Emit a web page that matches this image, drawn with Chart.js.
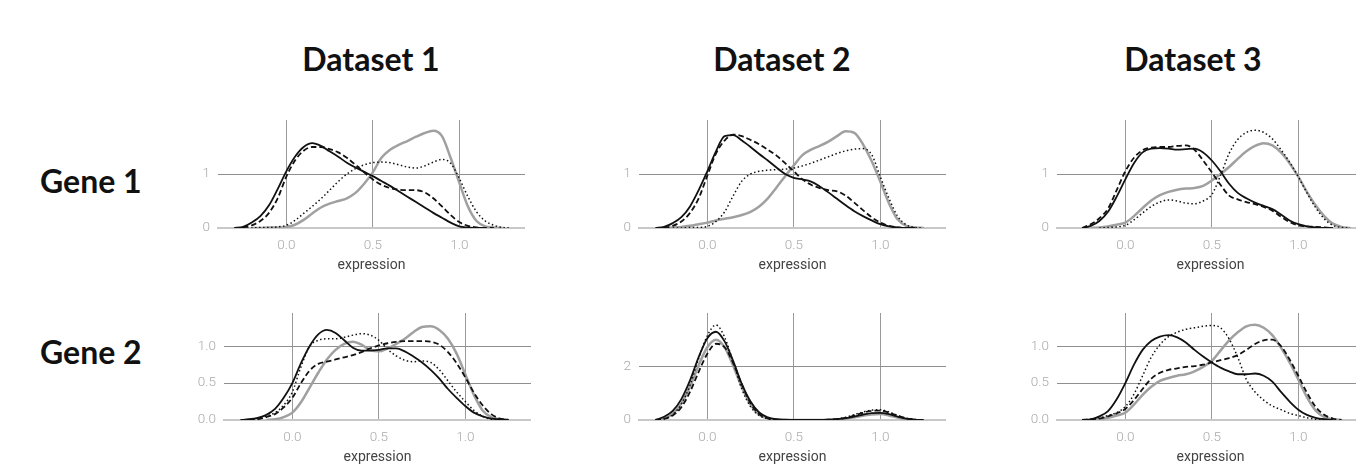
<!DOCTYPE html>
<html>
<head>
<meta charset="utf-8">
<script src="https://cdn.jsdelivr.net/npm/chart.js@4.4.1/dist/chart.umd.min.js"></script>
<style>
  html, body { margin: 0; padding: 0; width: 1356px; height: 468px; overflow: hidden; background: #fff; }
  .head { position: absolute; font-family: Lato, sans-serif; font-weight: 700; font-size: 32px; color: #111;
          line-height: 1; white-space: nowrap; transform: translate(-50%, -50%); }
  .row { position: absolute; font-family: Lato, sans-serif; font-weight: 700; font-size: 32px; color: #111;
         line-height: 1; white-space: nowrap; transform: translateY(-50%); }
  canvas { position: absolute; }
</style>
</head>
<body>
<div class="head" style="left:371px; top:59px">Dataset 1</div>
<div class="head" style="left:782px; top:59px">Dataset 2</div>
<div class="head" style="left:1193px; top:59px">Dataset 3</div>
<div class="row" style="left:40px; top:181px">Gene 1</div>
<div class="row" style="left:40px; top:352px">Gene 2</div>

<script>
// expression grid shared by every curve
const xs = [-0.3,-0.25,-0.2,-0.15,-0.1,-0.05,0,0.05,0.1,0.15,0.2,0.25,0.3,0.35,0.4,0.45,0.5,0.55,0.6,0.65,0.7,0.75,0.8,0.85,0.9,0.95,1,1.05,1.1,1.15,1.2,1.25,1.3];
const xTicks = [0, 0.5, 1];

// Gene 1 / Dataset 1
const g1d1Solid  = [0,0.02,0.1,0.22,0.42,0.72,1.05,1.32,1.5,1.57,1.52,1.42,1.32,1.21,1.12,1.04,0.96,0.87,0.78,0.68,0.58,0.48,0.38,0.28,0.19,0.1,0.03,0.01,0,0,null,null,null];
const g1d1Dashed = [0,0.01,0.05,0.13,0.28,0.55,0.95,1.25,1.43,1.5,1.5,1.46,1.4,1.3,1.17,1.03,0.9,0.8,0.74,0.71,0.7,0.7,0.66,0.55,0.4,0.24,0.11,0.04,0.01,0,0,null,null];
const g1d1Dotted = [null,0,0,0.01,0.01,0.02,0.05,0.14,0.27,0.4,0.54,0.7,0.86,1.0,1.1,1.17,1.21,1.22,1.21,1.17,1.13,1.11,1.15,1.22,1.27,1.2,0.92,0.58,0.3,0.13,0.05,0.01,0];
const g1d1Gray   = [null,null,0,0,0.01,0.01,0.02,0.06,0.15,0.27,0.38,0.45,0.5,0.55,0.65,0.82,1.03,1.3,1.45,1.54,1.61,1.69,1.76,1.8,1.7,1.3,0.84,0.4,0.13,0.03,0.01,0,null];

// Gene 1 / Dataset 2
const g1d2Solid  = [0,0.02,0.09,0.2,0.4,0.7,1.05,1.42,1.7,1.72,1.62,1.5,1.37,1.25,1.12,1.0,0.93,0.9,0.86,0.77,0.66,0.54,0.42,0.31,0.22,0.14,0.07,0.03,0.01,0,0,null,null];
const g1d2Dashed = [null,0,0.04,0.12,0.28,0.55,0.97,1.38,1.62,1.73,1.7,1.63,1.55,1.45,1.34,1.2,1.05,0.9,0.8,0.74,0.7,0.68,0.6,0.47,0.33,0.2,0.1,0.04,0.01,0,0,null,null];
const g1d2Dotted = [null,null,0,0,0.01,0.01,0.03,0.12,0.3,0.6,0.87,1.0,1.05,1.07,1.08,1.09,1.11,1.15,1.2,1.26,1.32,1.38,1.43,1.46,1.47,1.36,0.95,0.55,0.22,0.06,0.01,0,null];
const g1d2Gray   = [null,0,0.01,0.02,0.04,0.07,0.1,0.14,0.17,0.2,0.24,0.3,0.4,0.55,0.75,0.96,1.16,1.35,1.45,1.52,1.6,1.7,1.79,1.76,1.55,1.24,0.86,0.46,0.16,0.04,0.01,0,null];

// Gene 1 / Dataset 3
const g1d3Solid  = [null,0,0.04,0.13,0.3,0.58,0.9,1.2,1.4,1.47,1.48,1.47,1.45,1.46,1.47,1.4,1.25,1.05,0.82,0.65,0.55,0.47,0.41,0.35,0.25,0.14,0.07,0.03,0.01,0,0,null,null];
const g1d3Dashed = [null,0,0.07,0.18,0.36,0.7,1.05,1.3,1.44,1.49,1.5,1.5,1.52,1.53,1.45,1.25,1.03,0.8,0.6,0.53,0.48,0.44,0.39,0.32,0.21,0.11,0.05,0.03,0.02,0.01,0,null,null];
const g1d3Dotted = [null,null,null,0,0.01,0.02,0.05,0.15,0.28,0.4,0.48,0.52,0.5,0.46,0.45,0.5,0.62,0.97,1.38,1.64,1.77,1.81,1.77,1.65,1.45,1.22,0.95,0.65,0.38,0.17,0.05,0.01,0];
const g1d3Gray   = [null,null,0,0.01,0.03,0.06,0.1,0.22,0.37,0.51,0.61,0.67,0.71,0.73,0.74,0.78,0.88,1.0,1.13,1.28,1.42,1.52,1.57,1.53,1.4,1.2,0.95,0.67,0.42,0.22,0.08,0.02,0];

// Gene 2 / Dataset 1
const g2d1Solid  = [0,0.01,0.03,0.07,0.15,0.3,0.5,0.77,1.0,1.16,1.22,1.18,1.08,0.98,0.94,0.94,0.95,0.97,0.97,0.93,0.86,0.78,0.68,0.56,0.42,0.3,0.19,0.1,0.05,0.02,0.01,0,null];
const g2d1Dashed = [null,0,0.01,0.04,0.08,0.17,0.3,0.5,0.67,0.76,0.79,0.82,0.85,0.88,0.92,0.97,1.01,1.04,1.06,1.07,1.07,1.07,1.06,1.02,0.92,0.77,0.58,0.37,0.2,0.08,0.02,0,null];
const g2d1Dotted = [null,0,0.02,0.05,0.1,0.2,0.38,0.72,1.0,1.08,1.1,1.1,1.12,1.15,1.17,1.15,1.08,0.96,0.87,0.81,0.79,0.8,0.78,0.68,0.53,0.38,0.25,0.13,0.05,0.01,0,null,null];
const g2d1Gray   = [null,null,null,0,0.01,0.04,0.1,0.24,0.44,0.64,0.82,0.95,1.03,1.06,1.02,0.95,0.93,0.97,1.03,1.1,1.19,1.26,1.27,1.22,1.1,0.9,0.62,0.34,0.13,0.04,0.01,0,null];

// Gene 2 / Dataset 2
const g2d2Solid  = [0,0.12,0.34,0.78,1.48,2.35,3.06,3.3,2.94,2.2,1.34,0.69,0.28,0.1,0.03,0.01,0,0,0,0,0.01,0.03,0.07,0.13,0.2,0.26,0.27,0.22,0.13,0.05,0.01,0,null];
const g2d2Dashed = [0,0.04,0.17,0.48,1.05,1.8,2.48,2.85,2.72,2.12,1.32,0.62,0.22,0.06,0.01,0,0,0,0,0,0.01,0.03,0.08,0.17,0.27,0.34,0.35,0.28,0.16,0.06,0.01,0,null];
const g2d2Dotted = [0,0.05,0.2,0.6,1.3,2.3,3.15,3.55,3.1,2.15,1.15,0.5,0.17,0.05,0.01,0,0,0,0,0,0.01,0.04,0.1,0.2,0.3,0.37,0.38,0.3,0.17,0.07,0.02,0,null];
const g2d2Gray   = [0,0.06,0.24,0.62,1.25,2.05,2.72,3.0,2.72,2.02,1.22,0.57,0.2,0.06,0.01,0,0,0,0,0,0,0.02,0.05,0.1,0.16,0.21,0.22,0.17,0.09,0.03,0,null,null];

// Gene 2 / Dataset 3
const g2d3Solid  = [null,0,0.01,0.05,0.12,0.28,0.5,0.75,0.95,1.07,1.13,1.15,1.12,1.05,0.95,0.86,0.78,0.71,0.66,0.62,0.62,0.63,0.6,0.52,0.38,0.25,0.14,0.07,0.03,0.01,0,null,null];
const g2d3Dashed = [null,0,0.01,0.02,0.05,0.09,0.15,0.27,0.42,0.56,0.64,0.68,0.7,0.72,0.73,0.75,0.78,0.81,0.84,0.88,0.95,1.03,1.08,1.09,1.0,0.82,0.6,0.37,0.18,0.07,0.02,0,null];
const g2d3Dotted = [null,0,0.01,0.03,0.06,0.1,0.18,0.35,0.6,0.85,1.02,1.13,1.19,1.23,1.25,1.27,1.28,1.25,1.1,0.85,0.55,0.38,0.27,0.19,0.14,0.09,0.06,0.03,0.01,0,null,null,null];
const g2d3Gray   = [null,null,0,0.01,0.03,0.06,0.1,0.21,0.34,0.45,0.53,0.57,0.6,0.62,0.66,0.72,0.8,0.94,1.08,1.19,1.27,1.29,1.25,1.15,0.98,0.78,0.55,0.31,0.13,0.04,0.01,0,null];

// y ticks per row / panel
const yTicksGene1 = [0, 1];
const yTicksGene2 = [0, 0.5, 1];
const yTicksG2D2  = [0, 2];

// line looks: solid, dashed, dotted, grey (grey last so it sits underneath)
const lineStyles = [
  { borderColor: '#111', borderWidth: 1.8 },
  { borderColor: '#111', borderWidth: 1.8, borderDash: [5.5, 3] },
  { borderColor: '#111', borderWidth: 1.5, borderDash: [1.5, 2.5] },
  { borderColor: '#a0a0a0', borderWidth: 2.5 }
];

const X_MIN = -0.395, X_MAX = 1.38, AREA_W = 307, Y_AXIS_W = 40, X_AXIS_H = 50, TOP_PAD = 4;

const panels = [
  { left: 218,  top: 120, h: 108, ymax: 2,    yTicks: yTicksGene1, dec: 0, series: [g1d1Solid, g1d1Dashed, g1d1Dotted, g1d1Gray] },
  { left: 639,  top: 120, h: 108, ymax: 2,    yTicks: yTicksGene1, dec: 0, series: [g1d2Solid, g1d2Dashed, g1d2Dotted, g1d2Gray] },
  { left: 1057, top: 120, h: 108, ymax: 2,    yTicks: yTicksGene1, dec: 0, series: [g1d3Solid, g1d3Dashed, g1d3Dotted, g1d3Gray] },
  { left: 224,  top: 313, h: 107, ymax: 1.45, yTicks: yTicksGene2, dec: 1, series: [g2d1Solid, g2d1Dashed, g2d1Dotted, g2d1Gray] },
  { left: 639,  top: 313, h: 107, ymax: 4,    yTicks: yTicksG2D2,  dec: 0, series: [g2d2Solid, g2d2Dashed, g2d2Dotted, g2d2Gray] },
  { left: 1057, top: 313, h: 107, ymax: 1.45, yTicks: yTicksGene2, dec: 1, series: [g2d3Solid, g2d3Dashed, g2d3Dotted, g2d3Gray] }
];

const tickFont = { family: 'Roboto', size: 13.5, weight: '300' };
const titleFont = { family: 'Roboto', size: 14, weight: '400' };

function toPoints(vals) {
  const pts = [];
  xs.forEach((x, i) => { if (vals[i] !== null) pts.push({ x: x, y: vals[i] }); });
  return pts;
}

panels.forEach(p => {
  const cv = document.createElement('canvas');
  const W = Y_AXIS_W + AREA_W, H = TOP_PAD + p.h + X_AXIS_H;
  cv.width = W; cv.height = H;
  cv.style.width = W + 'px'; cv.style.height = H + 'px';
  cv.style.left = (p.left - Y_AXIS_W) + 'px';
  cv.style.top = (p.top - TOP_PAD) + 'px';
  document.body.appendChild(cv);

  new Chart(cv, {
    type: 'line',
    data: {
      datasets: lineStyles.map((s, k) => Object.assign({ data: toPoints(p.series[k]) }, s))
    },
    options: {
      responsive: false,
      animation: false,
      devicePixelRatio: 1,
      layout: { padding: { top: TOP_PAD, left: 0, right: 0, bottom: 0 } },
      plugins: { legend: { display: false }, tooltip: { enabled: false } },
      elements: {
        point: { radius: 0 },
        line: { cubicInterpolationMode: 'monotone', fill: false }
      },
      scales: {
        x: {
          type: 'linear', min: X_MIN, max: X_MAX,
          afterBuildTicks: s => { s.ticks = xTicks.map(v => ({ value: v })); },
          afterFit: s => { s.height = X_AXIS_H; s.paddingLeft = 0; s.paddingRight = 0; },
          grid: { color: '#9a9a9a', lineWidth: 1, drawTicks: false },
          border: { display: true, color: '#c8c8c8', width: 2 },
          ticks: { padding: 10, color: '#aaaaaa', font: tickFont, maxRotation: 0,
                   callback: v => Number(v).toFixed(1) },
          title: { display: true, text: 'expression', color: '#444', font: titleFont,
                   padding: { top: 0, bottom: 4 } }
        },
        y: {
          type: 'linear', min: 0, max: p.ymax,
          afterBuildTicks: s => { s.ticks = p.yTicks.map(v => ({ value: v })); },
          afterFit: s => { s.width = Y_AXIS_W; s.paddingTop = 0; s.paddingBottom = 0; },
          grid: { color: c => (c.tick && c.tick.value === 0) ? 'rgba(0,0,0,0)' : '#8f8f8f',
                  lineWidth: 1, drawTicks: false },
          border: { display: false },
          ticks: { padding: 8, color: '#aaaaaa', font: tickFont,
                   callback: v => Number(v).toFixed(p.dec) }
        }
      }
    }
  });
});
</script>
</body>
</html>
